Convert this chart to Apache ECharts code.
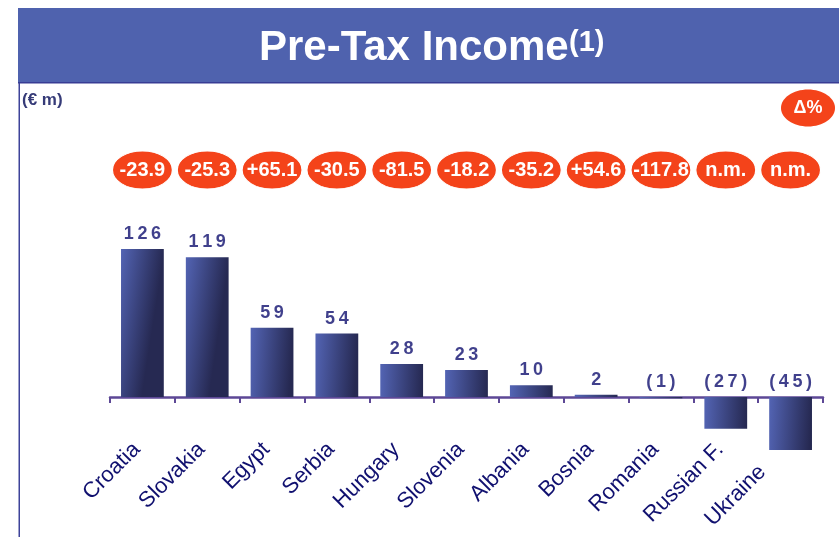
<!DOCTYPE html>
<html>
<head>
<meta charset="utf-8">
<script src="https://cdn.jsdelivr.net/npm/echarts@6/dist/echarts.min.js"></script>
<style>
  html, body { margin: 0; padding: 0; background: #fff; }
  #chart { width: 839px; height: 537px; }
</style>
</head>
<body>
<div id="chart"></div>
<script>
// Pre-tax income by country, € m, with year-on-year change (%)
const countries = ['Croatia', 'Slovakia', 'Egypt', 'Serbia', 'Hungary', 'Slovenia',
                   'Albania', 'Bosnia', 'Romania', 'Russian F.', 'Ukraine'];
const preTaxIncome = [126, 119, 59, 54, 28, 23, 10, 2, -1, -27, -45];
const changePct = ['-23.9', '-25.3', '+65.1', '-30.5', '-81.5', '-18.2',
                   '-35.2', '+54.6', '-117.8', 'n.m.', 'n.m.'];

const NAVY = '#10106f';
const FONT = '"Liberation Sans", Arial, sans-serif';

// spaced-out figures, negatives in brackets
function fmtValue(v) {
  const s = v < 0 ? '(' + Math.abs(v) + ')' : String(v);
  return s.split('').join('\u2009');
}

const barGradient = new echarts.graphic.LinearGradient(0, 0, 1, 0.045, [
  { offset: 0, color: '#5364b4' },
  { offset: 1, color: '#262952' }
]);

const chart = echarts.init(document.getElementById('chart'), null, { renderer: 'canvas' });

chart.setOption({
  animation: false,
  backgroundColor: '#ffffff',
  grid: [
    { left: 110, right: 16, top: 232.5, height: 235, outerBoundsMode: 'none', containLabel: false },
    { left: 110, right: 16, top: 151, height: 38, outerBoundsMode: 'none', containLabel: false }
  ],
  xAxis: [
    {
      type: 'category',
      gridIndex: 0,
      data: countries.map(function (c) {
        return c === 'Ukraine'
          ? { value: c, textStyle: { padding: [0, 40, 12, 0] } }
          : c;
      }),
      axisLine: { onZero: true, lineStyle: { color: '#5d4896', width: 2.5 } },
      axisTick: { show: true, alignWithLabel: false, length: 6, inside: false,
                  lineStyle: { color: '#5d4896', width: 2 } },
      axisLabel: {
        // labels hang from the grid bottom, so pull them up under the zero line
        rotate: 45, margin: -27, color: NAVY, fontFamily: FONT, fontSize: 22,
        interval: 0, padding: [0, 8, 12, 0]
      },
      splitLine: { show: false }
    },
    {
      type: 'category', gridIndex: 1, data: countries, show: false
    }
  ],
  yAxis: [
    { type: 'value', gridIndex: 0, min: -60, max: 140, show: false, splitLine: { show: false } },
    { type: 'value', gridIndex: 1, min: 0, max: 1, show: false, splitLine: { show: false } }
  ],
  series: [
    {
      name: 'Pre-tax income',
      type: 'bar',
      xAxisIndex: 0, yAxisIndex: 0,
      data: preTaxIncome,
      barWidth: '66%',
      itemStyle: { color: barGradient },
      z: 2
    },
    {
      // value labels sit just above the bar top, or above the axis for losses
      name: 'labels',
      type: 'scatter',
      xAxisIndex: 0, yAxisIndex: 0,
      symbolSize: 0,
      data: preTaxIncome.map(function (v, i) { return [i, Math.max(v, 0), v]; }),
      label: {
        show: true, position: 'top', distance: 6,
        color: NAVY, fontFamily: FONT, fontWeight: 'bold', fontSize: 18,
        formatter: function (p) { return fmtValue(p.data[2]); }
      },
      z: 5
    },
    {
      name: 'change',
      type: 'scatter',
      xAxisIndex: 1, yAxisIndex: 1,
      symbol: 'circle',
      symbolSize: [60, 38],
      data: changePct.map(function (t, i) { return [i, 0.5, t]; }),
      itemStyle: { color: '#f4431a', borderColor: '#ffffff', borderWidth: 1, opacity: 1 },
      label: {
        show: true, position: 'inside',
        color: '#ffffff', fontFamily: FONT, fontWeight: 'bold', fontSize: 20,
        formatter: function (p) { return p.data[2]; }
      },
      z: 5
    }
  ],
  graphic: [
    // header band
    { type: 'rect', left: 18, top: 8, shape: { width: 821, height: 74 },
      style: { fill: '#4f62ae' }, z: 0 },
    { type: 'rect', left: 18, top: 82, shape: { width: 821, height: 1.5 },
      style: { fill: '#383c94' }, z: 0 },
    { type: 'rect', left: 18.5, top: 83, shape: { width: 1.5, height: 460 },
      style: { fill: '#3e4399' }, z: 0 },
    { type: 'text', x: 259, y: 48, z: 10,
      style: { text: 'Pre-Tax Income', fill: '#ffffff', font: 'bold 42px ' + FONT,
               textVerticalAlign: 'middle', textAlign: 'left',
               textShadowColor: '#1c1c3c', textShadowOffsetX: 2, textShadowOffsetY: 2, textShadowBlur: 0 } },
    { type: 'text', x: 569, y: 43, z: 10,
      style: { text: '(1)', fill: '#ffffff', font: 'bold 29px ' + FONT,
               textVerticalAlign: 'middle', textAlign: 'left',
               textShadowColor: '#1c1c3c', textShadowOffsetX: 2, textShadowOffsetY: 2, textShadowBlur: 0 } },
    // unit
    { type: 'text', x: 22, y: 100, z: 10,
      style: { text: '(€ m)', fill: '#363b78', font: 'bold 17px ' + FONT,
               textVerticalAlign: 'middle', textAlign: 'left' } },
    // Δ% badge
    { type: 'ellipse', z: 10, shape: { cx: 808, cy: 108, rx: 27, ry: 18.5 },
      style: { fill: '#f4431a' } },
    { type: 'text', x: 808, y: 108, z: 11,
      style: { text: 'Δ%', fill: '#ffffff', font: 'bold 18px ' + FONT,
               textVerticalAlign: 'middle', textAlign: 'center' } }
  ]
});
</script>
</body>
</html>
